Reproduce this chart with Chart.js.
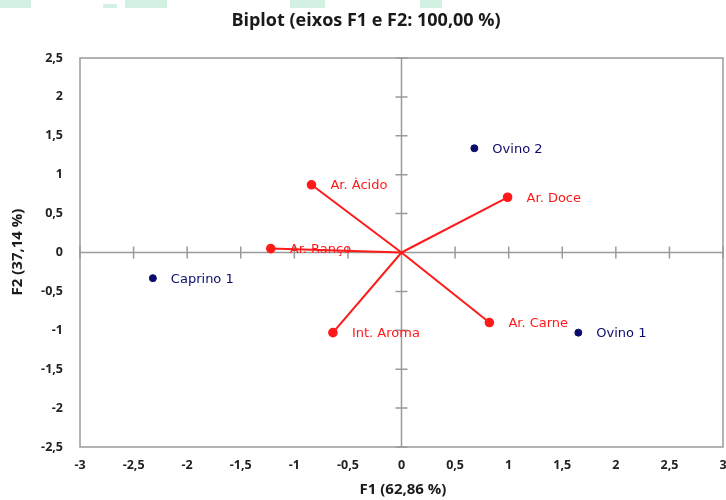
<!DOCTYPE html>
<html>
<head>
<meta charset="utf-8">
<script src="https://cdn.jsdelivr.net/npm/chart.js@4"></script>
<style>
    body{margin:0;background:#fff;overflow:hidden;}
    .wrap{position:relative;width:726px;height:500px;overflow:hidden;}
    .box{position:absolute;width:760px;height:500px;left:0;top:0;}
    .blob{position:absolute;top:0;height:8px;background:#d3f1e3;}
</style>
</head>
<body>
<div class="wrap">
    <div class="blob" style="left:0;width:31px;"></div>
    <div class="blob" style="left:103px;width:14px;top:4px;height:4px;"></div>
    <div class="blob" style="left:125px;width:42px;"></div>
    <div class="blob" style="left:290px;width:35px;"></div>
    <div class="blob" style="left:420px;width:22px;"></div>
    <div class="box"><canvas id="myChart" width="760" height="500"></canvas></div>
</div>
<script>
// observações (azul)
const obsNames = ['Caprino 1', 'Ovino 1', 'Ovino 2'];
const obsF1 = [-2.32, 1.65, 0.68];
const obsF2 = [-0.33, -1.03, 1.34];

// variáveis (vetores vermelhos)
const varNames = ['Ar. Àcido', 'Ar. Doce', 'Ar. Ranço', 'Int. Aroma', 'Ar. Carne'];
const varF1 = [-0.84, 0.99, -1.22, -0.64, 0.82];
const varF2 = [0.87, 0.71, 0.05, -1.03, -0.90];

const xTicks = [-3, -2.5, -2, -1.5, -1, -0.5, 0, 0.5, 1, 1.5, 2, 2.5, 3];
const yTicks = [-2.5, -2, -1.5, -1, -0.5, 0, 0.5, 1, 1.5, 2, 2.5];

const RED = '#ff1a1a';
const NAVY = '#0b0b6b';

function fmt(v){
    return String(Math.round(v * 10) / 10).replace('.', ',');
}

var datasets = [];
varNames.forEach(function(name, i){
    datasets.push({
        label: name,
        data: [{x: 0, y: 0}, {x: varF1[i], y: varF2[i]}],
        showLine: true,
        borderColor: RED,
        backgroundColor: RED,
        borderWidth: 2,
        pointRadius: [0, 3.8],
        pointHoverRadius: [0, 3.8],
        tag: 'var'
    });
});
datasets.push({
    label: 'obs',
    data: obsF1.map(function(v, i){ return {x: v, y: obsF2[i]}; }),
    borderColor: NAVY,
    backgroundColor: NAVY,
    pointRadius: 3.5,
    tag: 'obs'
});

// caixa, eixos no centro, rótulos e títulos
const biplotDecor = {
    id: 'biplotDecor',
    beforeDatasetsDraw(chart){
        var ctx = chart.ctx, a = chart.chartArea;
        var xs = chart.scales.x, ys = chart.scales.y;
        var x0 = xs.getPixelForValue(0), y0 = ys.getPixelForValue(0);
        ctx.save();
        ctx.strokeStyle = '#9a9a9a';
        ctx.lineWidth = 1.5;
        ctx.strokeRect(a.left, a.top, a.right - a.left, a.bottom - a.top);
        ctx.beginPath();
        ctx.moveTo(x0, a.top); ctx.lineTo(x0, a.bottom);
        ctx.moveTo(a.left, y0); ctx.lineTo(a.right, y0);
        xTicks.forEach(function(v){
            var px = xs.getPixelForValue(v);
            ctx.moveTo(px, y0 - 6); ctx.lineTo(px, y0 + 6);
        });
        yTicks.forEach(function(v){
            var py = ys.getPixelForValue(v);
            ctx.moveTo(x0 - 6, py); ctx.lineTo(x0 + 6, py);
        });
        ctx.stroke();
        ctx.restore();
    },
    afterDatasetsDraw(chart){
        var ctx = chart.ctx;
        var xs = chart.scales.x, ys = chart.scales.y;
        ctx.save();
        ctx.font = '13px "DejaVu Sans"';
        ctx.textBaseline = 'middle';
        ctx.textAlign = 'left';
        ctx.fillStyle = RED;
        varNames.forEach(function(n, i){
            ctx.fillText(n, xs.getPixelForValue(varF1[i]) + 19, ys.getPixelForValue(varF2[i]) + 1);
        });
        ctx.fillStyle = NAVY;
        obsNames.forEach(function(n, i){
            ctx.fillText(n, xs.getPixelForValue(obsF1[i]) + 18, ys.getPixelForValue(obsF2[i]) + 1);
        });

        // títulos
        ctx.fillStyle = '#1a1a1a';
        ctx.textAlign = 'center';
        ctx.font = 'bold 18px "Open Sans"';
        ctx.fillText('Biplot (eixos F1 e F2: 100,00 %)', 366, 21);
        ctx.font = 'bold 15px "Open Sans"';
        ctx.fillText('F1 (62,86 %)', 403, 490);
        ctx.translate(18, 252);
        ctx.rotate(-Math.PI / 2);
        ctx.fillText('F2 (37,14 %)', 0, 0);
        ctx.restore();
    }
};

var ctx = document.getElementById('myChart');
var myChart = new Chart(ctx, {
    type: 'scatter',
    data: {datasets: datasets},
    options: {
        responsive: false,
        animation: false,
        layout: {padding: {top: 58, right: 37, left: 0, bottom: 0}},
        plugins: {legend: {display: false}, tooltip: {enabled: false}},
        scales: {
            x: {
                min: -3, max: 3,
                afterBuildTicks(s){ s.ticks = xTicks.map(function(v){ return {value: v}; }); },
                afterFit(s){ s.height = 53; },
                grid: {display: false, drawTicks: false},
                border: {display: false},
                ticks: {
                    callback: fmt, color: '#222', padding: 11, maxRotation: 0, autoSkip: false,
                    font: {family: 'Open Sans', size: 12.5, weight: 'bold'}
                }
            },
            y: {
                min: -2.5, max: 2.5,
                afterBuildTicks(s){ s.ticks = yTicks.map(function(v){ return {value: v}; }); },
                afterFit(s){ s.width = 80; },
                grid: {display: false, drawTicks: false},
                border: {display: false},
                ticks: {
                    callback: fmt, color: '#222', padding: 17, autoSkip: false,
                    font: {family: 'Open Sans', size: 12.5, weight: 'bold'}
                }
            }
        }
    },
    plugins: [biplotDecor]
});
</script>
</body>
</html>
